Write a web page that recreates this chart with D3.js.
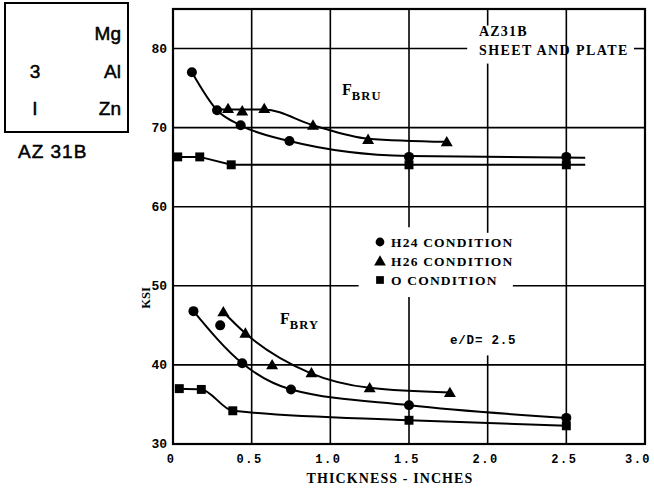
<!DOCTYPE html>
<html>
<head>
<meta charset="utf-8">
<script src="https://cdn.jsdelivr.net/npm/d3@7"></script>
<style>
  body { margin: 0; background: #fff; }
  svg { display: block; }
</style>
</head>
<body>
<script>
const W = 654
const H = 489

// measured points (thickness in inches, ksi)
const h24Upper = [[0.12, 77.0], [0.28, 72.2], [0.43, 70.3], [0.74, 68.3], [1.5, 66.3], [2.5, 66.3]]
const h26Upper = [[0.35, 72.4], [0.44, 72.1], [0.58, 72.4], [0.89, 70.3], [1.24, 68.5], [1.74, 68.2]]
const oUpper = [[0.03, 66.3], [0.17, 66.3], [0.37, 65.3], [1.5, 65.3], [2.5, 65.3]]
const h24Lower = [[0.13, 46.8], [0.30, 45.0], [0.44, 40.2], [0.75, 36.9], [1.5, 34.9], [2.5, 33.3]]
const h26Lower = [[0.32, 46.7], [0.46, 44.0], [0.63, 40.0], [0.88, 39.0], [1.25, 37.1], [1.76, 36.5]]
const oLower = [[0.04, 37.0], [0.18, 36.9], [0.38, 34.2], [1.5, 33.0], [2.5, 32.3]]

// faired curves drawn through the points
const h24UpperFit = [[0.12, 77.0], [0.28, 72.2], [0.43, 70.3], [0.74, 68.3], [1.5, 66.4], [2.62, 66.2]]
const h26UpperFit = [[0.28, 72.3], [0.58, 72.3], [0.89, 70.3], [1.24, 68.6], [1.74, 68.2]]
const oUpperFit = [[0.03, 66.3], [0.17, 66.3], [0.37, 65.3], [2.62, 65.3]]
const h24LowerFit = [[0.13, 46.8], [0.44, 40.2], [0.75, 36.9], [1.5, 34.9], [2.5, 33.3]]
const h26LowerFit = [[0.32, 46.7], [0.46, 44.0], [0.87, 39.0], [1.25, 37.1], [1.76, 36.5]]
const oLowerFit = [[0.04, 37.0], [0.18, 36.9], [0.38, 34.2], [1.5, 33.0], [2.5, 32.3]]

const xTicks = [0, 0.5, 1.0, 1.5, 2.0, 2.5, 3.0]
const yTicks = [30, 40, 50, 60, 70, 80]
const vGrid = [0.5, 1.0, 1.5, 2.0, 2.5]
const hGrid = [40, 50, 60, 70, 80]
// where grid lines are broken for text
const vGaps = { 1.5: [[48.6, 57.4]], 2: [[41.2, 56.7], [78.1, 82.9]] }
const hGaps = { 50: [[1.18, 2.16]], 80: [[1.87, 2.93]] }

const legendItems = [
  { shape: 'circle', label: 'H24 CONDITION' },
  { shape: 'triangle', label: 'H26 CONDITION' },
  { shape: 'square', label: 'O CONDITION' }
]

const x = d3.scaleLinear().domain([0, 3]).range([173, 645])
const y = d3.scaleLinear().domain([30, 85]).range([444, 9])

const svg = d3.select('body').append('svg')
  .attr('width', W)
  .attr('height', H)

const serif = '"Liberation Serif", "DejaVu Serif", serif'
const mono = '"Liberation Mono", "DejaVu Sans Mono", monospace'
const sans = '"Liberation Sans", Arial, sans-serif'

// alloy box top left
svg.append('rect')
  .attr('x', 5).attr('y', 3).attr('width', 123).attr('height', 129)
  .attr('fill', 'none').attr('stroke', '#000').attr('stroke-width', 2)
const boxRows = [['', 'Mg'], ['3', 'Al'], ['I', 'Zn']]
boxRows.forEach((r, i) => {
  const by = 40 + i * 37.5
  svg.append('text').attr('x', 35).attr('y', by).attr('text-anchor', 'middle')
    .style('font-family', sans).style('font-size', '19px')
    .attr('stroke', '#000').attr('stroke-width', 0.5).text(r[0])
  svg.append('text').attr('x', 121).attr('y', by).attr('text-anchor', 'end')
    .style('font-family', sans).style('font-size', '19px')
    .attr('stroke', '#000').attr('stroke-width', 0.5).text(r[1])
})
svg.append('text').attr('x', 18).attr('y', 158)
  .style('font-family', sans).style('font-size', '19px').style('letter-spacing', '1px')
  .attr('stroke', '#000').attr('stroke-width', 0.5)
  .text('AZ 31B')

// grid
function splitRange(lo, hi, gaps) {
  const segs = []
  let start = lo
  ;(gaps || []).forEach(g => { segs.push([start, g[0]]); start = g[1] })
  segs.push([start, hi])
  return segs
}
const grid = svg.append('g').attr('stroke', '#000').attr('stroke-width', 1.6)
vGrid.forEach(v => {
  splitRange(30, 85, vGaps[v]).forEach(s => {
    grid.append('line')
      .attr('x1', x(v)).attr('x2', x(v))
      .attr('y1', y(s[0])).attr('y2', y(s[1]))
  })
})
hGrid.forEach(v => {
  splitRange(0, 3, hGaps[v]).forEach(s => {
    grid.append('line')
      .attr('x1', x(s[0])).attr('x2', x(s[1]))
      .attr('y1', y(v)).attr('y2', y(v))
  })
})

// frame
svg.append('rect')
  .attr('x', x(0)).attr('y', y(85))
  .attr('width', x(3) - x(0)).attr('height', y(30) - y(85))
  .attr('fill', 'none').attr('stroke', '#000').attr('stroke-width', 2.2)

// axes labels
svg.append('g').selectAll('text')
  .data(xTicks)
  .enter().append('text')
  .attr('x', d => Math.min(x(d) - 2, 638))
  .attr('y', 463)
  .attr('text-anchor', 'middle')
  .style('font-family', mono).style('font-weight', 'bold')
  .style('font-size', '12px').style('letter-spacing', '1.5px')
  .text(d => d === 0 ? '0' : d.toFixed(1))

svg.append('g').selectAll('text')
  .data(yTicks)
  .enter().append('text')
  .attr('x', 167)
  .attr('y', d => y(d) + 4)
  .attr('text-anchor', 'end')
  .style('font-family', mono).style('font-weight', 'bold')
  .style('font-size', '13px')
  .text(d => d)

svg.append('text')
  .attr('x', 390).attr('y', 483)
  .attr('text-anchor', 'middle')
  .style('font-family', serif).style('font-weight', 'bold')
  .style('font-size', '14px').style('letter-spacing', '1.1px')
  .text('THICKNESS - INCHES')

svg.append('text')
  .attr('transform', 'translate(150,298) rotate(-90)')
  .attr('text-anchor', 'middle')
  .style('font-family', serif).style('font-weight', 'bold').style('font-size', '12.5px')
  .text('KSI')

// curves
const line = d3.line()
  .x(d => x(d[0]))
  .y(d => y(d[1]))
  .curve(d3.curveMonotoneX)
const lineStraight = d3.line()
  .x(d => x(d[0]))
  .y(d => y(d[1]))

const curves = svg.append('g')
  .attr('fill', 'none').attr('stroke', '#000').attr('stroke-width', 2)
;[h24UpperFit, h26UpperFit, h24LowerFit, h26LowerFit, oLowerFit].forEach(c => {
  curves.append('path').attr('d', line(c))
})
curves.append('path').attr('d', lineStraight(oUpperFit))

// markers
const tri = d3.symbol().type(d3.symbolTriangle).size(62)
const sq = d3.symbol().type(d3.symbolSquare).size(80)
function drawMarkers(data, shape) {
  const g = svg.append('g').attr('fill', '#000')
  if (shape === 'circle') {
    g.selectAll('circle').data(data).enter().append('circle')
      .attr('cx', d => x(d[0])).attr('cy', d => y(d[1])).attr('r', 5)
  } else {
    g.selectAll('path').data(data).enter().append('path')
      .attr('transform', d => `translate(${x(d[0])},${y(d[1]) + (shape === 'triangle' ? 1 : 0)})`)
      .attr('d', shape === 'triangle' ? tri : sq)
  }
}
drawMarkers(oUpper, 'square')
drawMarkers(oLower, 'square')
drawMarkers(h24Upper, 'circle')
drawMarkers(h24Lower, 'circle')
drawMarkers(h26Upper, 'triangle')
drawMarkers(h26Lower, 'triangle')

// legend
const leg = svg.append('g').attr('transform', 'translate(380,242)')
legendItems.forEach((it, i) => {
  const ly = i * 19
  if (it.shape === 'circle') {
    leg.append('circle').attr('cx', 0).attr('cy', ly).attr('r', 4.4)
  } else {
    leg.append('path').attr('transform', `translate(0,${ly + (it.shape === 'triangle' ? 1 : 0)})`)
      .attr('d', d3.symbol().type(it.shape === 'triangle' ? d3.symbolTriangle : d3.symbolSquare).size(60))
  }
  leg.append('text').attr('x', 11).attr('y', ly + 5)
    .style('font-family', serif).style('font-weight', 'bold')
    .style('font-size', '13.5px').style('letter-spacing', '1.2px')
    .text(it.label)
})

// annotations
svg.append('text').attr('x', 479).attr('y', 36)
  .style('font-family', serif).style('font-weight', 'bold')
  .style('font-size', '14px').style('letter-spacing', '1.2px')
  .text('AZ31B')
svg.append('text').attr('x', 479).attr('y', 55)
  .style('font-family', serif).style('font-weight', 'bold')
  .style('font-size', '14px').style('letter-spacing', '1.4px')
  .text('SHEET AND PLATE')

function subLabel(px, py, sub) {
  const t = svg.append('text').attr('x', px).attr('y', py)
    .style('font-family', serif).style('font-weight', 'bold')
  t.append('tspan').style('font-size', '16px').text('F')
  t.append('tspan').attr('dy', 5).style('font-size', '12.5px').style('letter-spacing', '1.2px').text(sub)
}
subLabel(342, 95, 'BRU')
subLabel(280, 324, 'BRY')

svg.append('text').attr('x', 450).attr('y', 344)
  .style('font-family', mono).style('font-weight', 'bold')
  .style('font-size', '12.5px').style('letter-spacing', '0.8px')
  .text('e/D= 2.5')
</script>
</body>
</html>
